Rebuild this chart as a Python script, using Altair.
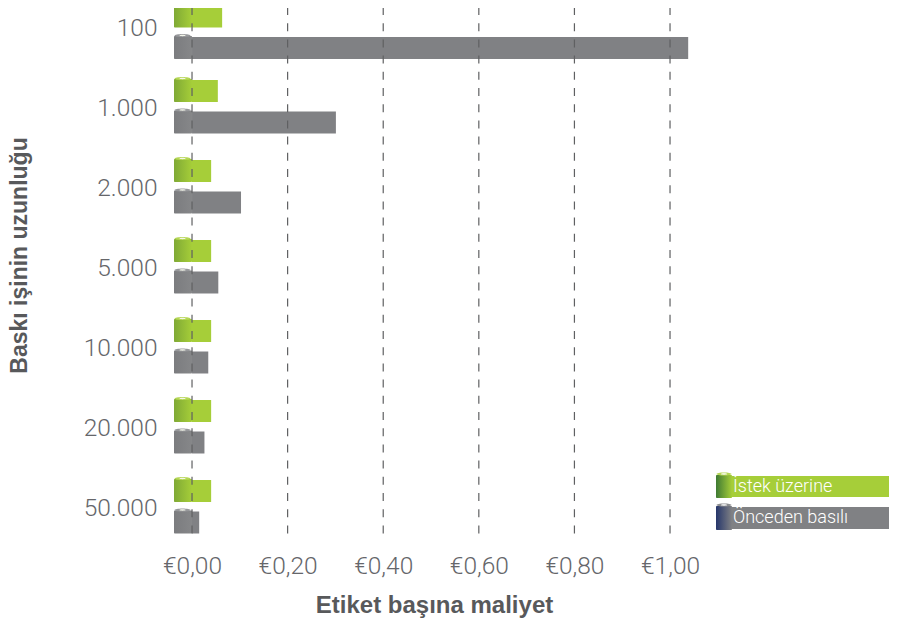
import altair as alt
import pandas as pd

categories = ["100", "1.000", "2.000", "5.000", "10.000", "20.000", "50.000"]
istek = [0.063, 0.054, 0.04, 0.04, 0.04, 0.04, 0.04]
onceden = [1.038, 0.301, 0.1025, 0.055, 0.034, 0.026, 0.015]
ticks = [0, 0.2, 0.4, 0.6, 0.8, 1.0]
legend_labels = ["İstek üzerine", "Önceden basılı"]

FONT = "Roboto"
BOLD = "Liberation Sans"
TXT = "#65666a"
GREEN = "#a6ce39"
GREY = "#808184"
ROLL = -0.0377

df = pd.DataFrame({"cat": categories, "istek": istek, "onceden": onceden, "roll": ROLL, "zero": 0.0, "mid": ROLL / 2 - 0.001})
base = alt.Chart(df)
xs = alt.Scale(domain=[ROLL, 1.4581], range=[0, 715], nice=False, zero=False)
ys = alt.Scale(domain=categories, range=[-20, 540], paddingInner=0, paddingOuter=0)
xax = alt.Axis(values=ticks, labelExpr="'€' + replace(format(datum.value, '.2f'), '.', ',')", domain=False, ticks=False, grid=False,
               labelFontSize=24.5, labelFontWeight=300, labelColor=TXT, labelFont=FONT, labelPadding=19,
               title="Etiket başına maliyet", titleFont=BOLD, titleFontSize=24, titleColor="#58595b", titleFontWeight="bold",
               titleX=260, titleY=58)
yax = alt.Axis(domain=False, ticks=False, grid=False, labelFontSize=24.5, labelFontWeight=300, labelColor=TXT, labelFont=FONT, labelPadding=17,
               labelOffset=1, labelAlign="right", title="Baskı işinin uzunluğu", titleFont=BOLD, titleFontSize=23, titleColor="#58595b",
               titleFontWeight="bold", titleX=-143, titleY=247)


def grad(a, b):
    return {"x1": 0, "x2": 1, "y1": 0, "y2": 0, "gradient": "linear",
            "stops": [{"offset": 0, "color": a}, {"offset": 1, "color": b}]}


def off(v):
    return {"expr": f"(datum.cat === '100' ? 5.5 : 0) + ({v})"}


ELL = "M-1,0 A1,0.2 0 1,1 1,0 A1,0.2 0 1,1 -1,0 Z"


def series(field, center, color, dark, light, ring):
    y = alt.Y("cat:N", scale=ys, axis=yax, title="Baskı işinin uzunluğu", sort=categories)
    bar = base.mark_bar(size=22, color=color, yOffset=off(center)).encode(
        x=alt.X("zero:Q", scale=xs, axis=xax, title="Etiket başına maliyet"), x2=f"{field}:Q", y=y)
    roll = base.mark_bar(size=23, fill=grad(dark, light), cornerRadius=1, yOffset=off(center - 0.5)).encode(
        x=alt.X("roll:Q", scale=xs), x2="zero:Q", y=y)
    e1 = base.mark_point(shape=ELL, size=256, filled=True, color=ring, opacity=1, yOffset=off(center - 12.5)).encode(
        x=alt.X("mid:Q", scale=xs), y=y)
    e2 = base.mark_point(shape=ELL, size=40, filled=True, color="#f4f6ea", opacity=1, yOffset=off(center - 12.5)).encode(
        x=alt.X("mid:Q", scale=xs), y=y)
    return [bar, roll, e1, e2]


layers = series("istek", -17, GREEN, "#7fa935", "#a6ce39", "#b5d654") + series("onceden", 14.5, GREY, "#7b7c7f", "#868789", "#97989b")

grid = alt.Chart(pd.DataFrame({"t": ticks})).mark_rule(color="#5f6062", strokeWidth=1.2, strokeDash=[8, 8.2]).encode(
    x=alt.X("t:Q", scale=xs), y=alt.value(-1), y2=alt.value(527))
layers.append(grid)

leg = [(legend_labels[0], 468, 489, GREEN, "#3f7a33", "#a6ce39", "#b5d654"),
       (legend_labels[1], 499, 521, GREY, "#26366b", "#808184", "#8b8c8f")]
one = pd.DataFrame({"a": [0]})
for label, t, b, col, dark, light, ring in leg:
    layers.append(alt.Chart(one).mark_rect(color=col).encode(x=alt.value(558), x2=alt.value(715), y=alt.value(t), y2=alt.value(b)))
    layers.append(alt.Chart(one).mark_rect(fill=grad(dark, light), cornerRadius=1).encode(x=alt.value(542), x2=alt.value(558), y=alt.value(t - 1), y2=alt.value(b + 1)))
    layers.append(alt.Chart(one).mark_point(shape=ELL, size=225, filled=True, color=ring, opacity=1).encode(x=alt.value(550), y=alt.value(t - 2)))
    layers.append(alt.Chart(one).mark_point(shape=ELL, size=40, filled=True, color="#ffffff", opacity=1).encode(x=alt.value(550), y=alt.value(t - 2)))
    layers.append(alt.Chart(pd.DataFrame({"label": [label]})).mark_text(align="left", baseline="middle", font=FONT, fontWeight=300, fontSize=18, color="#ffffff").encode(
        x=alt.value(559), y=alt.value((t + b) / 2), text="label:N"))

chart = alt.layer(*layers).properties(
    width=715, height=527, autosize="none", padding={"left": 166, "top": 0, "right": 0, "bottom": 84}
).configure_view(stroke=None)

chart.save("out.html", embed_options={"renderer": "svg", "actions": False})
